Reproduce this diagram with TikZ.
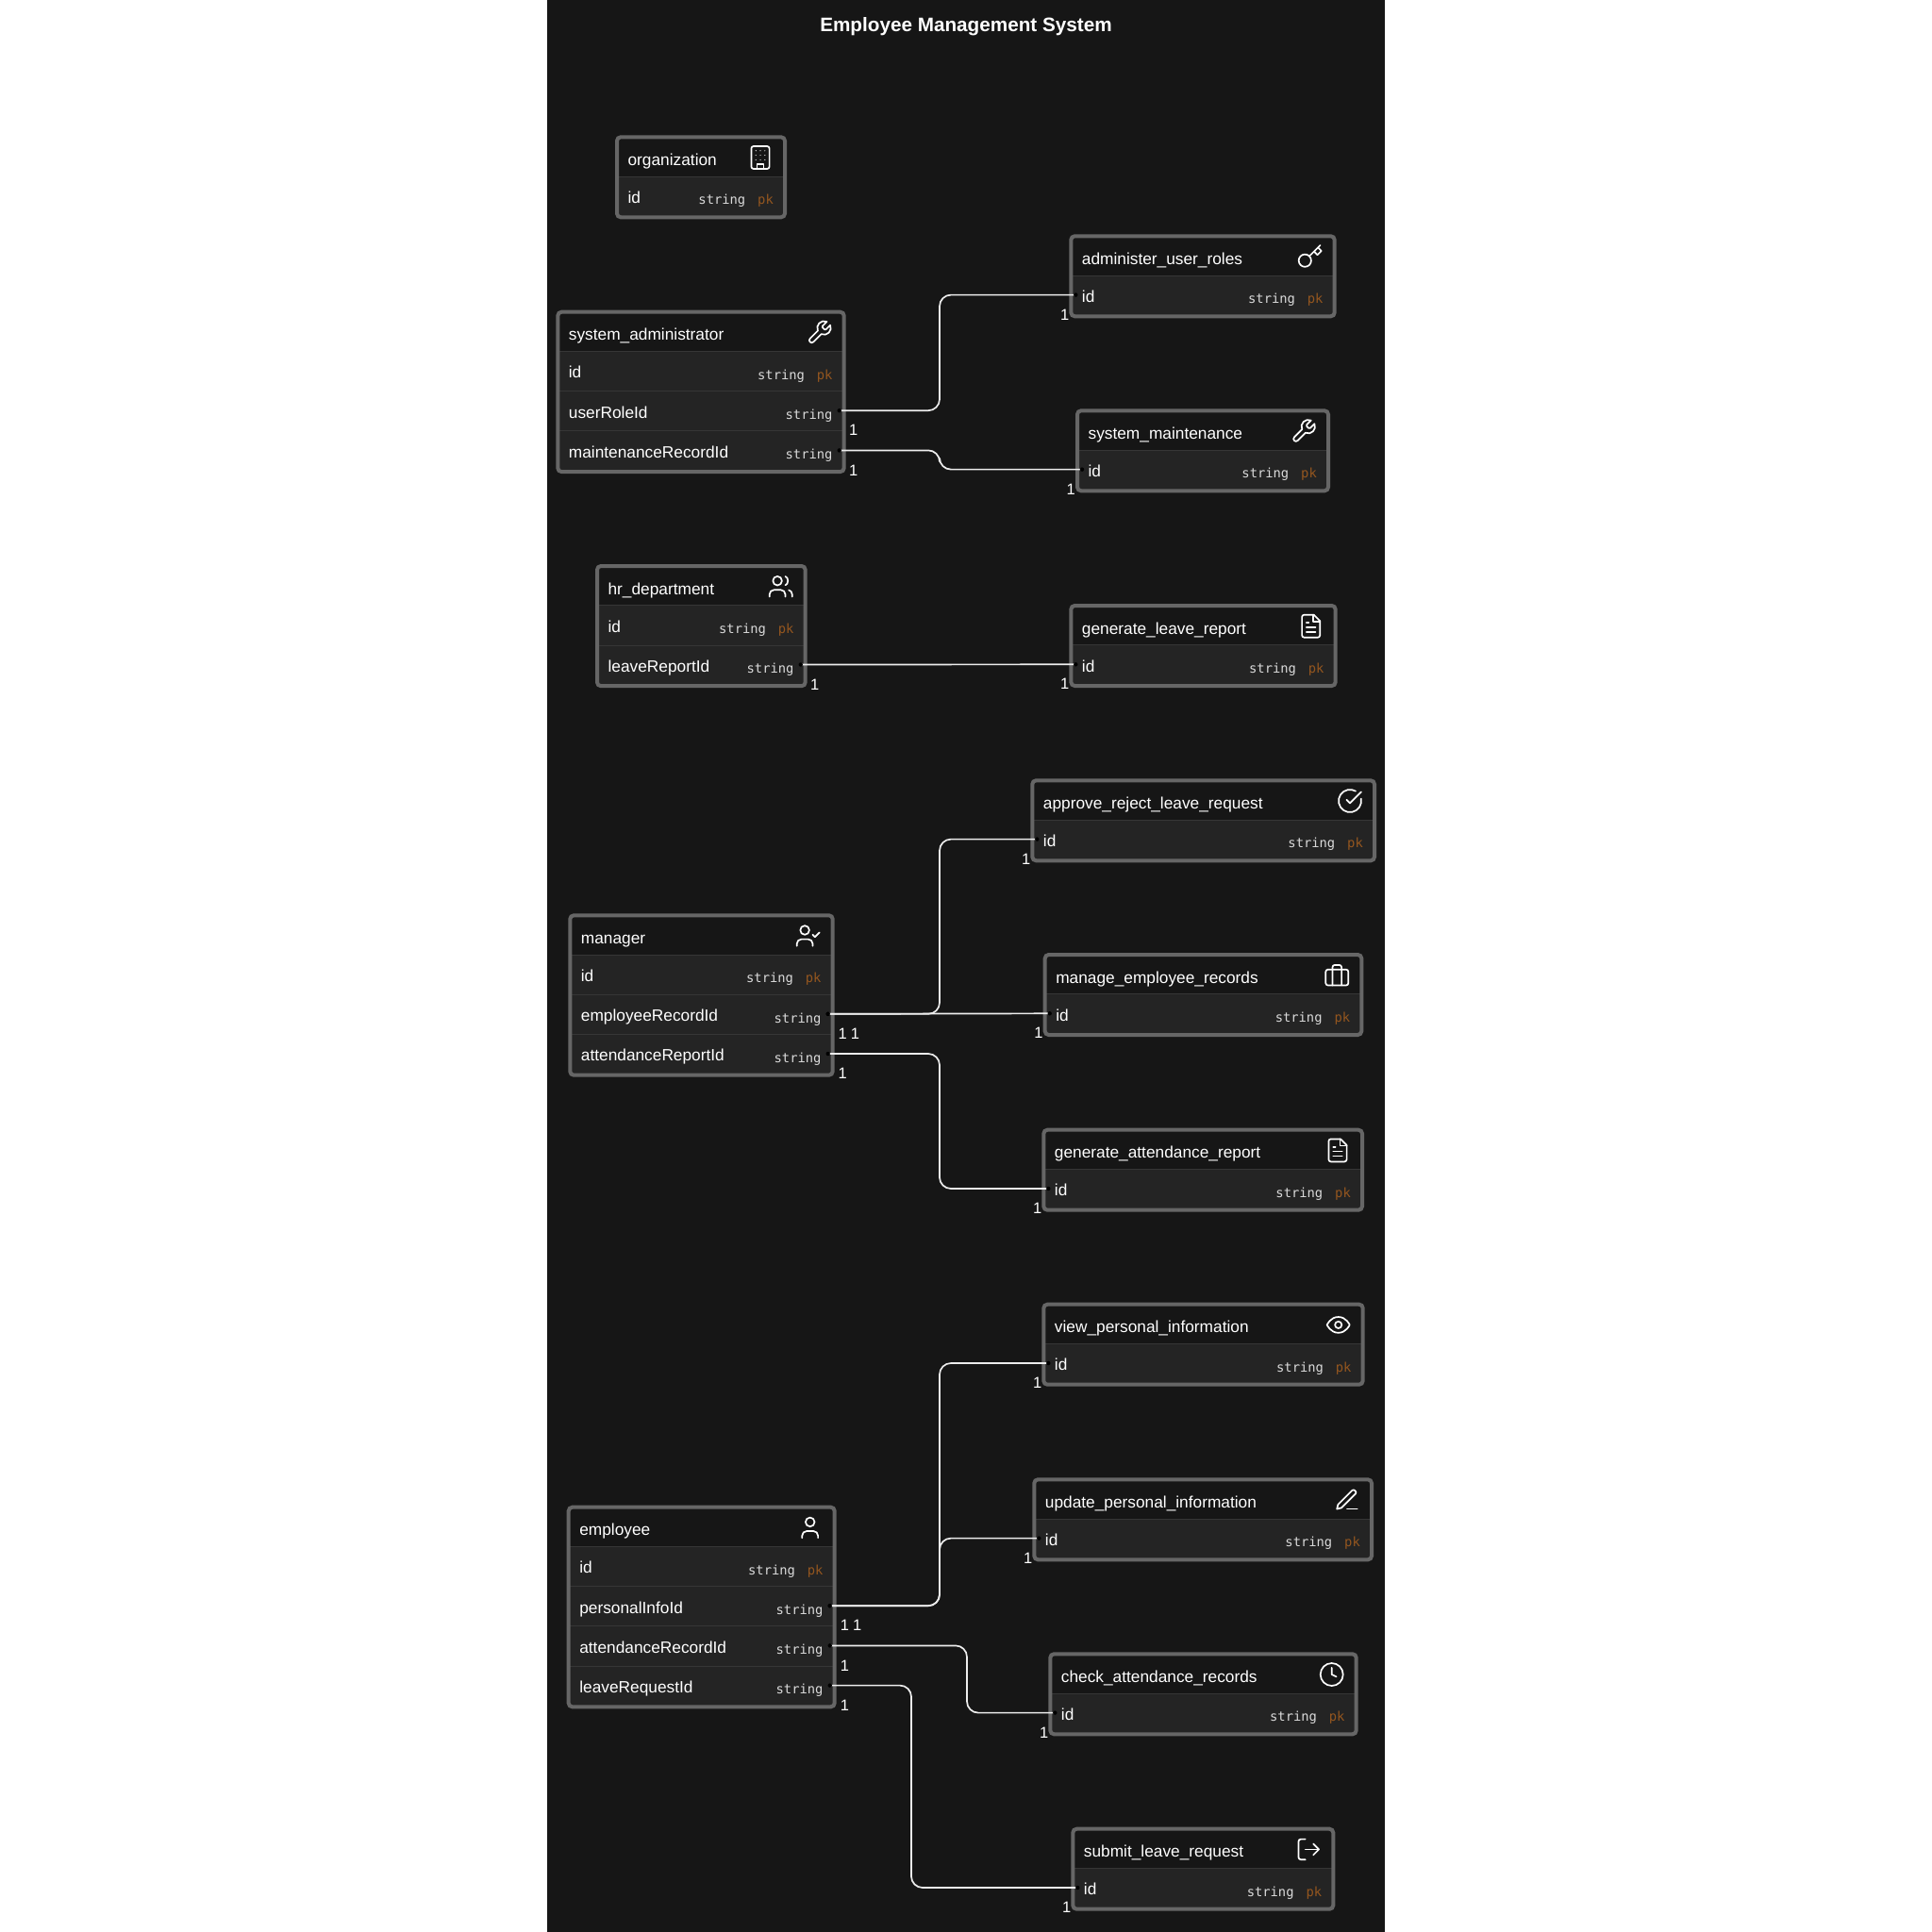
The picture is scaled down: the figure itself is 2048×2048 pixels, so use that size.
\documentclass[tikz,border=0pt]{standalone}
\usepackage{fontspec}
\setmainfont{Liberation Sans}
\setmonofont{DejaVu Sans Mono}
\usepackage{tikz}
\usetikzlibrary{calc, positioning}

\definecolor{canvasbg}{HTML}{161616}
\definecolor{rowbg}{HTML}{242424}
\definecolor{frameline}{HTML}{666666}
\definecolor{sepgray}{HTML}{363636}
\definecolor{typegray}{HTML}{DADADA}
\definecolor{pkorange}{HTML}{94561F}
\definecolor{linkwhite}{HTML}{EDEDED}

\tikzset{
    erbox/.style={rectangle, fill=rowbg, rounded corners=4pt, inner sep=0, outer sep=0, anchor=north west},
    erhead/.style={rectangle, fill=canvasbg, inner sep=0, outer sep=0, anchor=north west, minimum height=41.3},
    errow/.style={rectangle, inner sep=0, outer sep=0, minimum height=41},
    erframe/.style={draw=frameline, line width=4, rounded corners=4pt},
    sepline/.style={draw=sepgray, line width=1},
    titletext/.style={text=white, font=\fontsize{17.3}{19}\selectfont, anchor=base west, inner sep=0},
    fieldtext/.style={titletext},
    typetext/.style={text=typegray, font=\ttfamily\fontsize{13.8}{16}\selectfont, anchor=base east, inner sep=0},
    pktext/.style={typetext, text=pkorange},
    charttitle/.style={text=white, font=\bfseries\fontsize{20.7}{24}\selectfont, anchor=base, inner sep=0},
    cardtext/.style={text=white, font=\fontsize{16.5}{18}\selectfont, inner sep=0},
    link/.style={draw=linkwhite, line width=1.7, rounded corners=12pt},
    icon/.style={draw=white, line width=1.7, line cap=round, line join=round, shift={(-14.4,-14.4)}, scale=1.2},
    icbuilding/.pic={
        \draw[icon, rounded corners=2.4pt] (4,2) rectangle (20,22);
        \draw[icon] (9,22) -- (9,18) -- (15,18) -- (15,22);
        \foreach \dx in {8,12,16} \foreach \dy in {6,10,14}
            \fill[icon, draw=none, fill=white] (\dx,\dy) circle[radius=0.5];
    },
    icwrench/.pic={
        \draw[icon] (14.7,6.3) .. controls (14.3,6.7) and (14.3,7.3) .. (14.7,7.7) -- (16.3,9.3)
            .. controls (16.7,9.7) and (17.3,9.7) .. (17.7,9.3) -- (21.47,5.53)
            .. controls (23.74,10.53) and (18.53,15.74) .. (13.53,13.47) -- (6.62,20.38)
            .. controls (4.62,22.38) and (1.62,19.38) .. (3.62,17.38) -- (10.53,10.47)
            .. controls (8.26,5.47) and (13.47,0.26) .. (18.47,2.53) -- cycle;
    },
    ickey/.pic={
        \draw[icon] (7.5,15.5) circle[radius=5.5];
        \draw[icon] (21,2) -- (19,4) -- (22,7) -- (18.5,10.5) -- (15.5,7.5) -- (19,4);
        \draw[icon] (15.5,7.5) -- (11.39,11.61);
    },
    icfile/.pic={
        \draw[icon, rounded corners=2.4pt] (14.5,2) -- (4,2) -- (4,22) -- (20,22) -- (20,7.5);
        \draw[icon] (20,7.5) -- (14.5,2);
        \draw[icon] (14,2) -- (14,8) -- (20,8);
        \draw[icon] (16,13) -- (8,13);
        \draw[icon] (16,17) -- (8,17);
        \draw[icon] (10,9) -- (8,9);
    },
    iccheck/.pic={
        \draw[icon] (21.8,10) arc[start angle=-11.5, end angle=300, radius=10];
        \draw[icon] (9,11) -- (12,14) -- (22,4);
    },
    iccase/.pic={
        \draw[icon, rounded corners=2.4pt] (2,7) rectangle (22,21);
        \draw[icon, rounded corners=2.4pt] (16,21) -- (16,3) -- (8,3) -- (8,21);
    },
    iceye/.pic={
        \draw[icon] (2,12) .. controls (2,12) and (5,5) .. (12,5) .. controls (19,5) and (22,12) .. (22,12)
            .. controls (22,12) and (19,19) .. (12,19) .. controls (5,19) and (2,12) .. cycle;
        \draw[icon] (12,12) circle[radius=3];
    },
    icpen/.pic={
        \draw[icon] (12,20) -- (21,20);
        \draw[icon] (16.5,3.5) .. controls (18,2) and (21,5) .. (19.5,6.5) -- (7,19) -- (3,20) -- (4,16) -- cycle;
    },
    icclock/.pic={
        \draw[icon] (12,12) circle[radius=10];
        \draw[icon] (12,6) -- (12,12) -- (16,14);
    },
    iclogout/.pic={
        \draw[icon, rounded corners=2.4pt] (9,21) -- (3,21) -- (3,3) -- (9,3);
        \draw[icon] (16,17) -- (21,12) -- (16,7);
        \draw[icon] (21,12) -- (9,12);
    },
    icuser/.pic={
        \draw[icon, rounded corners=4.8pt] (19,21) -- (19,15) -- (5,15) -- (5,21);
        \draw[icon] (12,7) circle[radius=4];
    },
    icusercheck/.pic={
        \draw[icon, rounded corners=4.8pt] (16,21) -- (16,15) -- (2,15) -- (2,21);
        \draw[icon] (9,7) circle[radius=4];
        \draw[icon] (16,11) -- (18,13) -- (22,9);
    },
    icusers/.pic={
        \draw[icon, rounded corners=4.8pt] (16,21) -- (16,15) -- (2,15) -- (2,21);
        \draw[icon] (9,7) circle[radius=4];
        \draw[icon] (22,21) -- (22,19) .. controls (22,17.2) and (20.8,15.6) .. (19,15.13);
        \draw[icon] (16,3.13) .. controls (19,3.9) and (19,10.1) .. (16,10.88);
    }
}

\begin{document}
\begin{tikzpicture}[x=1pt, y=-1pt]
    \useasboundingbox (0,0) rectangle (2048,2048);
    \fill[white] (0,0) rectangle (2048,2048);
    \fill[canvasbg] (580,0) rectangle (1468,2048);

    \node[charttitle] (title) at (1024,33.3) {Employee Management System};

    % Tables
    \foreach \tb/\tx/\ty/\tw/\tk/\ttl/\ic/\flds in {
        org/652/143.3/182/1/organization/icbuilding/{id},
        sysadmin/589.3/328.7/307.4/3/system\_administrator/icwrench/{id,userRoleId,maintenanceRecordId},
        userroles/1133.3/248.3/283.4/1/administer\_user\_roles/ickey/{id},
        sysmaint/1140/433.3/270/1/system\_maintenance/icwrench/{id},
        hr/631/598/224.7/2/hr\_department/icusers/{id,leaveReportId},
        leavereport/1133.3/640/284.4/1/generate\_leave\_report/icfile/{id},
        approve/1092.3/825.3/366.7/1/approve\_reject\_leave\_request/iccheck/{id},
        manager/602.3/968.3/282.4/3/manager/icusercheck/{id,employeeRecordId,attendanceReportId},
        records/1105.7/1010/339.6/1/manage\_employee\_records/iccase/{id},
        attreport/1104.3/1195.7/341.7/1/generate\_attendance\_report/icfile/{id},
        viewinfo/1104.3/1380.7/342.4/1/view\_personal\_information/iceye/{id},
        updateinfo/1094.3/1566.3/361.7/1/update\_personal\_information/icpen/{id},
        checkatt/1111.3/1751.3/328.4/1/check\_attendance\_records/icclock/{id},
        submit/1135.3/1936.7/280/1/submit\_leave\_request/iclogout/{id},
        employee/600.7/1595.7/286/4/employee/icuser/{id,personalInfoId,attendanceRecordId,leaveRequestId}%
    } {
        \node[erbox, minimum width=\tw-4, minimum height=42.8+42.2*\tk] (\tb) at (\tx+2,\ty+2) {};
        \node[erhead, minimum width=\tw-4] (\tb-head) at (\tb.north west) {};
        \foreach \fld [count=\i] in \flds {
            \node[errow, minimum width=\tw-14] (\tb-\fld) at ($(\tb.north)+(0,20.1+42.2*\i)$) {};
            \draw[sepline] (\tb.west |- \tb-\fld.north) -- (\tb.east |- \tb-\fld.north);
            \node[fieldtext] (\tb-\fld-name) at ($(\tb-\fld.west)+(6.4,7.8)$) {\fld};
            \ifnum\i=1
                \node[pktext] (\tb-pk) at ($(\tb-\fld.east)+(-7,9.3)$) {pk};
                \node[typetext] (\tb-\fld-type) at ($(\tb-pk.base west)+(-12.5,0)$) {string};
            \else
                \node[typetext] (\tb-\fld-type) at ($(\tb-\fld.east)+(-7,9.3)$) {string};
            \fi
        }
        \draw[erframe] (\tb.north west) rectangle (\tb.south east);
        \node[titletext] (\tb-title) at ($(\tb-head.west)+(11.4,9.4)$) {\ttl};
        \pic at ($(\tb.north east)+(-26,21.7)$) {\ic};
    }

    % Links with their cardinalities, 0 is a straight link
    \foreach \src/\dst/\mx/\ox in {
        sysadmin-userRoleId/userroles-id/996/15,
        sysadmin-maintenanceRecordId/sysmaint-id/996/15,
        hr-leaveReportId/leavereport-id/0/15,
        manager-employeeRecordId/approve-id/996/15.4,
        manager-employeeRecordId/records-id/0/28.7,
        manager-attendanceReportId/attreport-id/996/15.4,
        employee-personalInfoId/viewinfo-id/996/15.7,
        employee-personalInfoId/updateinfo-id/996/29,
        employee-attendanceRecordId/checkatt-id/1025/15.7,
        employee-leaveRequestId/submit-id/966/15.7%
    } {
        \ifnum\mx=0
            \draw[link] (\src.east) -- (\dst.west);
        \else
            \coordinate (bend) at (\mx,0);
            \draw[link] (\src.east) -- (\src.east -| bend) -- (\dst.west -| bend) -- (\dst.west);
        \fi
        \fill[black] (\src.east) circle[radius=2.2];
        \fill[black] (\dst.west) circle[radius=2.2];
        \node[cardtext] (\src-\dst-a) at ($(\src.east)+(\ox,21)$) {1};
        \node[cardtext] (\src-\dst-b) at ($(\dst.west)+(-11.7,21)$) {1};
    }
\end{tikzpicture}
\end{document}
